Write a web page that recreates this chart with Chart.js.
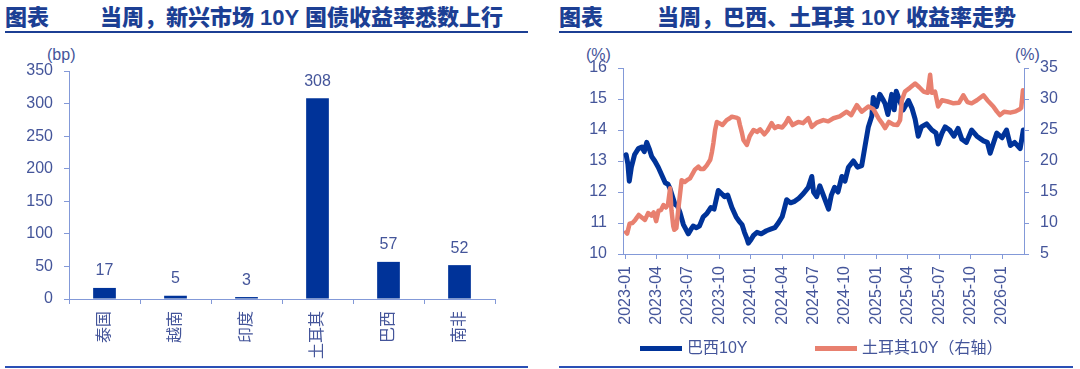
<!DOCTYPE html>
<html><head><meta charset="utf-8">
<script src="https://cdn.jsdelivr.net/npm/chart.js@4.4.1/dist/chart.umd.min.js"></script>
<style>
html,body{margin:0;padding:0;background:#fff;}
body{width:1080px;height:369px;position:relative;overflow:hidden;font-family:"Liberation Sans","Noto Sans CJK SC",sans-serif;}
.t{position:absolute;top:6px;font-size:22px;font-weight:900;color:#1c3f94;line-height:24px;white-space:nowrap;}
.rule{position:absolute;height:2px;background:#1c3f94;}
.unit{position:absolute;top:46px;font-size:16px;color:#44559a;line-height:18px;white-space:nowrap;}
.lg{position:absolute;top:339px;font-size:16px;color:#44559a;line-height:18px;white-space:nowrap;}
.sw{position:absolute;top:346px;width:42px;height:5px;}
canvas{position:absolute;top:0;}
</style></head>
<body>
<div class="t" style="left:5px">图表</div>
<div class="t" style="left:100px">当周，新兴市场 10Y 国债收益率悉数上行</div>
<div class="t" style="left:559px">图表</div>
<div class="t" style="left:657px">当周，巴西、土耳其 10Y 收益率走势</div>
<div class="rule" style="left:5px;width:523px;top:31px"></div>
<div class="rule" style="left:559px;width:513px;top:31px"></div>
<div class="rule" style="left:5px;width:523px;top:366px;background:#2a4fb5"></div>
<div class="rule" style="left:559px;width:514px;top:366px;background:#2a4fb5"></div>
<div class="unit" style="left:47px">(bp)</div>
<div class="unit" style="left:586px">(%)</div>
<div class="unit" style="left:1015px">(%)</div>
<canvas id="bar" width="540" height="369" style="left:0"></canvas>
<canvas id="line" width="540" height="369" style="left:540px"></canvas>
<script>
// ---------- data ----------
const barCategories = ['泰国','越南','印度','土耳其','巴西','南非'];
const barValues = [17,5,3,308,57,52];
const barYTicks = [0,50,100,150,200,250,300,350];

const lineXTickLabels = ['2023-01','2023-04','2023-07','2023-10','2024-01','2024-04','2024-07','2024-10','2025-01','2025-04','2025-07','2025-10','2026-01'];
const leftYTicks = [10,11,12,13,14,15,16];
const rightYTicks = [5,10,15,20,25,30,35];
const seriesNames = ['巴西10Y','土耳其10Y（右轴）'];

const brazilDates = ['2023-01-04','2023-01-09','2023-01-13','2023-01-19','2023-01-28','2023-02-09','2023-02-19','2023-02-26','2023-03-03','2023-03-10','2023-03-17','2023-03-26','2023-04-06','2023-04-16','2023-04-26','2023-05-04','2023-05-10','2023-05-17','2023-05-24','2023-06-01','2023-06-08','2023-06-18','2023-06-25','2023-07-02','2023-07-10','2023-07-16','2023-07-25','2023-08-04','2023-08-15','2023-08-25','2023-09-07','2023-09-16','2023-09-28','2023-10-07','2023-10-16','2023-10-25','2023-11-07','2023-11-19','2023-11-28','2023-12-06','2023-12-13','2023-12-20','2023-12-24',
'2024-01-01','2024-01-09','2024-01-19','2024-02-01','2024-02-16','2024-02-28','2024-03-10','2024-03-20','2024-04-01','2024-04-07','2024-04-14','2024-04-25','2024-05-07','2024-05-19','2024-06-02','2024-06-16','2024-06-26','2024-07-01','2024-07-10','2024-07-19','2024-08-04','2024-08-14','2024-08-22','2024-09-01','2024-09-11','2024-09-22','2024-10-01','2024-10-11','2024-10-25','2024-11-07','2024-11-19','2024-11-28','2024-12-08','2024-12-18','2024-12-22',
'2025-01-01','2025-01-11','2025-01-19','2025-01-26','2025-02-04','2025-02-15','2025-02-22','2025-02-28','2025-03-09','2025-03-18','2025-04-03','2025-04-13','2025-04-22','2025-05-01','2025-05-10','2025-05-25','2025-06-10','2025-06-22','2025-06-28','2025-07-09','2025-07-18','2025-08-01','2025-08-13','2025-08-25','2025-09-06','2025-09-19','2025-10-04','2025-10-19','2025-11-08','2025-11-19','2025-11-27','2025-12-07','2025-12-16',
'2026-01-01','2026-01-14','2026-01-25','2026-02-07','2026-02-23','2026-03-02'];
const brazilValues = [13.2,12.9,12.35,12.8,13.2,13.4,13.45,13.3,13.6,13.4,13.15,13.0,12.8,12.55,12.3,12.25,12.1,11.85,11.6,11.55,11.35,10.95,10.8,10.65,10.8,10.9,10.85,10.9,11.2,11.3,11.5,11.45,12.05,11.95,11.85,11.9,11.5,11.2,11.05,10.95,10.7,10.5,10.35,
10.45,10.6,10.7,10.65,10.75,10.8,10.85,11.0,11.2,11.45,11.75,11.65,11.7,11.8,11.95,12.15,12.5,12.0,11.85,12.2,11.75,11.45,11.9,12.15,12.0,12.5,12.35,12.8,13.0,12.8,12.85,13.45,14.1,14.45,15.05,
14.75,15.15,15.0,14.85,14.5,15.15,14.65,15.25,14.9,14.65,14.95,14.7,14.35,13.8,14.1,14.2,14.0,13.9,13.55,13.9,14.1,14.0,13.8,14.05,13.7,13.6,14.0,13.8,13.65,13.6,13.25,13.6,13.9,
13.75,14.0,13.5,13.6,13.4,14.0];

const turkeyDates = ['2023-01-04','2023-01-07','2023-01-14','2023-01-22','2023-01-30','2023-02-10','2023-02-19','2023-02-28','2023-03-07','2023-03-16','2023-03-23','2023-03-30','2023-04-07','2023-04-14','2023-04-21','2023-04-28','2023-05-04','2023-05-10','2023-05-14','2023-05-19','2023-05-22','2023-05-28','2023-06-04','2023-06-13','2023-06-22','2023-07-01','2023-07-07','2023-07-15','2023-07-21','2023-08-01','2023-08-07','2023-08-16','2023-08-25','2023-09-05','2023-09-10','2023-09-14','2023-09-19','2023-09-24','2023-10-01','2023-10-10','2023-10-22','2023-11-01','2023-11-07','2023-11-19','2023-11-26','2023-11-30','2023-12-06','2023-12-10','2023-12-20','2023-12-28',
'2024-01-09','2024-01-19','2024-01-28','2024-02-10','2024-02-19','2024-03-01','2024-03-10','2024-03-19','2024-04-01','2024-04-10','2024-04-19','2024-05-01','2024-05-17','2024-06-01','2024-06-16','2024-06-26','2024-07-10','2024-07-29','2024-08-13','2024-08-28','2024-09-16','2024-10-06','2024-10-19','2024-11-05','2024-11-19','2024-12-08','2024-12-22',
'2025-01-07','2025-01-16','2025-01-26','2025-02-07','2025-02-19','2025-03-01','2025-03-09','2025-03-14','2025-03-23','2025-04-07','2025-04-22','2025-05-04','2025-05-16','2025-05-28','2025-06-05','2025-06-10','2025-06-19','2025-06-28','2025-07-09','2025-07-25','2025-08-12','2025-08-28','2025-09-10','2025-09-22','2025-10-04','2025-10-19','2025-11-08','2025-11-19','2025-12-06','2025-12-16','2025-12-25',
'2026-01-07','2026-01-25','2026-02-10','2026-02-23','2026-02-26','2026-03-01','2026-03-02'];
const turkeyValues = [8.5,8.3,9.9,10.0,10.5,11.3,10.9,10.5,11.6,11.2,11.7,10.3,12.0,12.1,12.9,12.5,13.0,15.6,12.0,9.5,8.9,9.2,12.5,16.9,16.6,17.0,17.2,18.0,18.6,19.1,18.7,18.7,19.3,20.2,21.5,22.9,25.0,26.3,26.1,25.8,26.6,26.9,27.15,27.0,26.8,25.8,24.5,23.4,22.6,24.0,
25.0,24.7,25.1,24.3,24.9,26.1,25.3,25.6,25.4,26.0,26.9,25.8,26.3,26.1,26.9,25.5,26.2,26.6,26.4,26.9,27.2,27.95,27.4,29.0,27.95,28.8,28.4,
26.9,26.2,25.3,26.3,25.9,25.8,26.6,29.8,31.2,31.8,32.5,31.9,31.2,31.0,33.9,31.0,31.2,28.8,29.8,29.6,29.3,29.4,30.6,29.5,29.3,29.8,30.6,29.8,28.8,28.0,27.4,
27.95,27.8,28.0,28.4,28.6,31.4,30.4];

// ---------- style ----------
const FONT = '"Liberation Sans","Noto Sans CJK SC",sans-serif';
const BLUE = '#003399';
const ORANGE = '#e8806f';
const LABEL = '#44559a';
const AXIS = '#8399d8';

const monthIndex = s => { const p = s.split('-').map(Number); return (p[0]-2023)*12 + (p[1]-1) + ((p[2]||1)-1)/30; };

const valueLabels = {
  id:'valueLabels',
  afterDatasetsDraw(chart){
    const ctx = chart.ctx; const meta = chart.getDatasetMeta(0);
    ctx.save();
    ctx.font = '16px ' + FONT; ctx.fillStyle = LABEL; ctx.textAlign = 'center'; ctx.textBaseline = 'alphabetic';
    meta.data.forEach((el,i)=>{ ctx.fillText(String(chart.data.datasets[0].data[i]), el.x, el.y - 12.5); });
    ctx.restore();
  }
};

const tickFont = {size:16, family:FONT};

new Chart(document.getElementById('bar'), {
  type:'bar',
  data:{labels:barCategories, datasets:[{data:barValues, backgroundColor:BLUE, borderWidth:0, categoryPercentage:1, barPercentage:0.32}]},
  options:{
    responsive:false, animation:false, events:[],
    layout:{padding:{left:0,right:45,top:71,bottom:0}},
    plugins:{legend:{display:false}, tooltip:{enabled:false}},
    scales:{
      x:{
        grid:{display:true, drawOnChartArea:false, drawTicks:true, tickLength:5, color:AXIS, offset:true},
        border:{display:true, color:AXIS, width:1},
        ticks:{color:LABEL, font:tickFont, minRotation:90, maxRotation:90, padding:7, autoSkip:false},
        afterFit:s=>{ s.height = 70; }
      },
      y:{
        min:0, max:350,
        afterBuildTicks:s=>{ s.ticks = barYTicks.map(v=>({value:v})); },
        grid:{drawOnChartArea:false, tickLength:5, color:AXIS},
        border:{display:true, color:AXIS, width:1},
        ticks:{color:LABEL, font:tickFont, padding:11},
        afterFit:s=>{ s.width = 69; }
      }
    }
  },
  plugins:[valueLabels]
});

const lineChart = new Chart(document.getElementById('line'), {
  type:'line',
  data:{datasets:[
    {label:seriesNames[0], data:brazilDates.map((d,i)=>({x:monthIndex(d), y:brazilValues[i]})), borderColor:BLUE, backgroundColor:BLUE, borderWidth:5, pointRadius:0, tension:0, yAxisID:'y', order:1, borderJoinStyle:'round', borderCapStyle:'round'},
    {label:seriesNames[1], data:turkeyDates.map((d,i)=>({x:monthIndex(d), y:turkeyValues[i]})), borderColor:ORANGE, backgroundColor:ORANGE, borderWidth:4.5, pointRadius:0, tension:0, yAxisID:'y1', order:0, borderJoinStyle:'round', borderCapStyle:'round'}
  ]},
  options:{
    responsive:false, animation:false, events:[],
    layout:{padding:{left:0,right:0,top:68,bottom:0}},
    plugins:{legend:{display:false}, tooltip:{enabled:false}},
    scales:{
      x:{
        type:'linear', min:-0.2, max:38.1,
        afterBuildTicks:s=>{ s.ticks = lineXTickLabels.map(l=>({value:monthIndex(l)})); },
        ticks:{color:LABEL, font:tickFont, minRotation:90, maxRotation:90, padding:7, autoSkip:false, callback:(v,i)=>lineXTickLabels[i]},
        grid:{drawOnChartArea:false, tickLength:5, color:AXIS},
        border:{display:true, color:AXIS, width:1},
        afterFit:s=>{ s.height = 115; }
      },
      y:{
        position:'left', min:10, max:16,
        afterBuildTicks:s=>{ s.ticks = leftYTicks.map(v=>({value:v})); },
        grid:{drawOnChartArea:false, tickLength:5, color:AXIS},
        border:{display:true, color:AXIS, width:1},
        ticks:{color:LABEL, font:tickFont, padding:11},
        afterFit:s=>{ s.width = 83; }
      },
      y1:{
        position:'right', min:5, max:35,
        afterBuildTicks:s=>{ s.ticks = rightYTicks.map(v=>({value:v})); },
        grid:{drawOnChartArea:false, tickLength:5, color:AXIS},
        border:{display:true, color:AXIS, width:1},
        ticks:{color:LABEL, font:tickFont, padding:11},
        afterFit:s=>{ s.width = 56; }
      }
    }
  }
});

// legend (HTML, built from the datasets)
const legendPos = [{sw:640, tx:687},{sw:815, tx:862}];
lineChart.data.datasets.forEach((ds,i)=>{
  const sw = document.createElement('div'); sw.className='sw'; sw.style.left = legendPos[i].sw+'px'; sw.style.background = ds.borderColor; document.body.appendChild(sw);
  const tx = document.createElement('div'); tx.className='lg'; tx.style.left = legendPos[i].tx+'px'; tx.textContent = ds.label; document.body.appendChild(tx);
});
</script>
</body></html>
